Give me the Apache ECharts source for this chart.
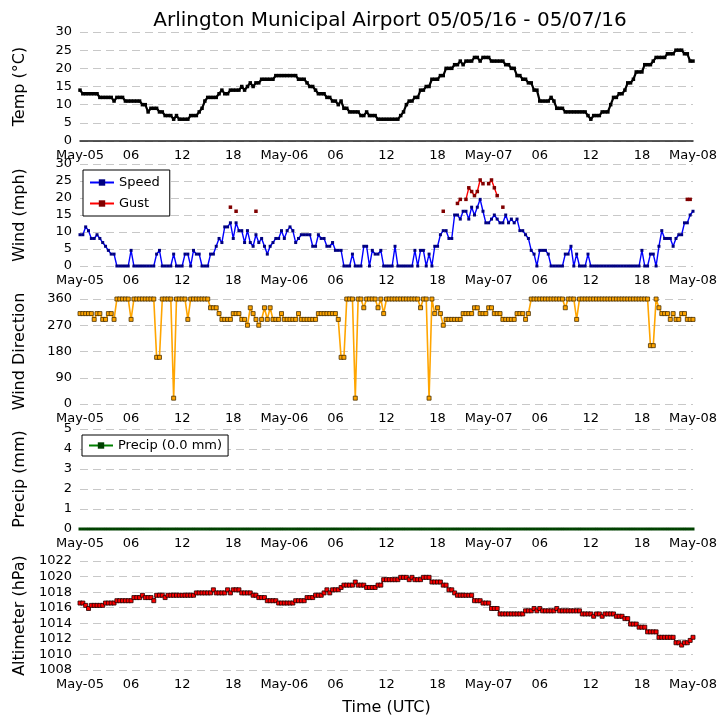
<!DOCTYPE html>
<html><head><meta charset="utf-8">
<script src="https://cdn.jsdelivr.net/npm/echarts@6/dist/echarts.min.js"></script>
<style>html,body{margin:0;padding:0;background:#fff}#c{width:727px;height:725px}</style>
</head><body><div id="c"></div><script>
const _ = null;
// observations every 20 minutes from May-05 00:00 UTC to May-08 00:00 UTC (3 per hour)
const tickLabels = ['May-05','06','12','18','May-06','06','12','18','May-07','06','12','18','May-08'];

const temp = [
14,13,13, 13,13,13, 13,12,12, 12,12,12, 11,12,12, 12,11,11,
11,11,11, 11,10,10, 8,9,9, 9,8,8, 7,7,7, 6,7,6,
6,6,6, 7,7,7, 8,9,11, 12,12,12, 12,13,14, 13,13,14,
14,14,14, 15,14,15, 16,15,16, 16,17,17, 17,17,17, 18,18,18,
18,18,18, 18,18,17, 17,17,16, 15,15,14, 13,13,13, 12,12,11,
11,10,11, 9,9,8, 8,8,8, 7,7,8, 7,7,7, 6,6,6,
6,6,6, 6,6,7, 8,10,11, 11,12,12, 14,14,15, 15,17,17,
17,18,18, 20,20,20, 21,21,22, 21,22,22, 22,23,23, 22,23,23,
23,22,22, 22,22,22, 21,21,20, 20,18,18, 17,17,16, 16,14,14,
11,11,11, 11,12,11, 9,9,9, 8,8,8, 8,8,8, 8,8,7,
6,7,7, 7,8,8, 8,10,12, 12,13,13, 14,16,16, 17,19,19,
19,21,21, 21,22,23, 23,23,23, 24,24,24, 25,25,25, 24,24,22,
22
];

const windSpeed = [
9.2,9.2,11.5, 10.4,8.1,8.1, 9.2,8.1,6.9, 5.8,4.6,3.5, 3.5,0,0, 0,0,0,
4.6,0,0, 0,0,0, 0,0,0, 3.5,4.6,0, 0,0,0, 3.5,0,0,
0,3.5,3.5, 0,4.6,3.5, 3.5,0,0, 0,3.5,3.5, 5.8,8.1,6.9, 11.5,11.5,12.7,
8.1,12.7,10.4, 10.4,6.9,10.4, 6.9,5.8,9.2, 6.9,8.1,5.8, 3.5,5.8,6.9, 8.1,8.1,10.4,
8.1,10.4,11.5, 10.4,6.9,8.1, 9.2,9.2,9.2, 9.2,5.8,5.8, 9.2,8.1,8.1, 5.8,5.8,6.9,
4.6,4.6,4.6, 0,0,0, 3.5,0,0, 0,5.8,5.8, 0,4.6,3.5, 3.5,4.6,0,
0,0,0, 5.8,0,0, 0,0,0, 0,4.6,0, 4.6,4.6,0, 3.5,0,5.8,
5.8,9.2,10.4, 10.4,8.1,8.1, 15.0,15.0,13.8, 16.1,16.1,13.8, 17.3,15.0,17.3, 19.6,16.1,12.7,
12.7,13.8,15.0, 13.8,12.7,12.7, 15.0,12.7,13.8, 12.7,13.8,10.4, 10.4,9.2,8.1, 4.6,3.5,0,
4.6,4.6,4.6, 3.5,0,0, 0,0,0, 3.5,3.5,5.8, 0,3.5,0, 0,0,3.5,
0,0,0, 0,0,0, 0,0,0, 0,0,0, 0,0,0, 0,0,0,
4.6,0,0, 3.5,3.5,0, 5.8,10.4,8.1, 8.1,8.1,5.8, 8.1,9.2,9.2, 12.7,12.7,15.0,
16.1
];

const windGust = [
_,_,_, _,_,_, _,_,_, _,_,_, _,_,_, _,_,_,
_,_,_, _,_,_, _,_,_, _,_,_, _,_,_, _,_,_,
_,_,_, _,_,_, _,_,_, _,_,_, _,_,_, _,_,17.3,
_,16.1,_, _,_,_, _,_,16.1, _,_,_, _,_,_, _,_,_,
_,_,_, _,_,_, _,_,_, _,_,_, _,_,_, _,_,_,
_,_,_, _,_,_, _,_,_, _,_,_, _,_,_, _,_,_,
_,_,_, _,_,_, _,_,_, _,_,_, _,_,_, _,_,_,
_,_,16.1, _,_,_, _,18.4,19.6, _,19.6,23.0, 21.9,20.7,21.9, 25.3,24.2,_,
24.2,25.3,23.0, 20.7,_,17.3, _,_,_, _,_,_, _,_,_, _,_,_,
_,_,_, _,_,_, _,_,_, _,_,_, _,_,_, _,_,_,
_,_,_, _,_,_, _,_,_, _,_,_, _,_,_, _,_,_,
_,_,_, _,_,_, _,_,_, _,_,_, _,_,_, _,19.6,19.6,
_
];

const windDir = [
310,310,310, 310,310,290, 310,310,290, 290,310,310, 290,360,360, 360,360,360,
290,360,360, 360,360,360, 360,360,360, 160,160,360, 360,360,360, 20,360,360,
360,360,290, 360,360,360, 360,360,360, 360,330,330, 330,310,290, 290,290,290,
310,310,310, 290,290,270, 330,310,290, 270,290,330, 290,330,290, 290,290,310,
290,290,290, 290,290,310, 290,290,290, 290,290,290, 310,310,310, 310,310,310,
310,290,160, 160,360,360, 360,20,360, 360,330,360, 360,360,360, 330,360,310,
360,360,360, 360,360,360, 360,360,360, 360,360,360, 330,360,360, 20,360,310,
330,310,270, 290,290,290, 290,290,290, 310,310,310, 310,330,330, 310,310,310,
330,330,310, 310,310,290, 290,290,290, 290,310,310, 310,290,310, 360,360,360,
360,360,360, 360,360,360, 360,360,360, 330,360,360, 360,290,360, 360,360,360,
360,360,360, 360,360,360, 360,360,360, 360,360,360, 360,360,360, 360,360,360,
360,360,360, 200,200,360, 330,310,310, 310,290,310, 290,290,310, 310,290,290,
290
];

const precip = [
0,0,0,0,0,0,0,0,0,0,0,0,0,0,0,0,0,0,0,0,0,0,0,0,0,0,0,0,0,0,0,0,0,0,0,0,
0,0,0,0,0,0,0,0,0,0,0,0,0,0,0,0,0,0,0,0,0,0,0,0,0,0,0,0,0,0,0,0,0,0,0,0,
0,0,0,0,0,0,0,0,0,0,0,0,0,0,0,0,0,0,0,0,0,0,0,0,0,0,0,0,0,0,0,0,0,0,0,0,
0,0,0,0,0,0,0,0,0,0,0,0,0,0,0,0,0,0,0,0,0,0,0,0,0,0,0,0,0,0,0,0,0,0,0,0,
0,0,0,0,0,0,0,0,0,0,0,0,0,0,0,0,0,0,0,0,0,0,0,0,0,0,0,0,0,0,0,0,0,0,0,0,
0,0,0,0,0,0,0,0,0,0,0,0,0,0,0,0,0,0,0,0,0,0,0,0,0,0,0,0,0,0,0,0,0,0,0,0,
0
];

const altimeter = [
1016.6,1016.6,1016.3, 1015.9,1016.3,1016.3, 1016.3,1016.3,1016.3, 1016.6,1016.6,1016.6, 1016.6,1016.9,1016.9, 1016.9,1016.9,1016.9,
1016.9,1017.3,1017.3, 1017.3,1017.6,1017.3, 1017.3,1017.3,1016.9, 1017.6,1017.6,1017.6, 1017.3,1017.6,1017.6, 1017.6,1017.6,1017.6,
1017.6,1017.6,1017.6, 1017.6,1017.6,1017.9, 1017.9,1017.9,1017.9, 1017.9,1017.9,1018.3, 1017.9,1017.9,1017.9, 1017.9,1018.3,1017.9,
1018.3,1018.3,1018.3, 1017.9,1017.9,1017.9, 1017.9,1017.6,1017.6, 1017.3,1017.3,1017.3, 1016.9,1016.9,1016.9, 1016.9,1016.6,1016.6,
1016.6,1016.6,1016.6, 1016.6,1016.9,1016.9, 1016.9,1016.9,1017.3, 1017.3,1017.3,1017.6, 1017.6,1017.6,1017.9, 1018.3,1017.9,1018.3,
1018.3,1018.3,1018.6, 1018.9,1018.9,1018.9, 1018.9,1019.3,1018.9, 1018.9,1018.9,1018.6, 1018.6,1018.6,1018.6, 1018.9,1018.9,1019.6,
1019.6,1019.6,1019.6, 1019.6,1019.6,1019.9, 1019.9,1019.9,1019.6, 1019.9,1019.6,1019.6, 1019.6,1019.9,1019.9, 1019.9,1019.3,1019.3,
1019.3,1019.3,1018.9, 1018.9,1018.3,1018.3, 1017.9,1017.6,1017.6, 1017.6,1017.6,1017.6, 1017.6,1016.9,1016.9, 1016.9,1016.6,1016.6,
1016.6,1015.9,1015.9, 1015.9,1015.2,1015.2, 1015.2,1015.2,1015.2, 1015.2,1015.2,1015.2, 1015.2,1015.6,1015.6, 1015.6,1015.9,1015.6,
1015.9,1015.6,1015.6, 1015.6,1015.6,1015.6, 1015.9,1015.6,1015.6, 1015.6,1015.6,1015.6, 1015.6,1015.6,1015.6, 1015.2,1015.2,1015.2,
1015.2,1014.9,1015.2, 1015.2,1014.9,1015.2, 1015.2,1015.2,1015.2, 1014.9,1014.9,1014.9, 1014.6,1014.6,1013.9, 1013.9,1013.9,1013.5,
1013.5,1013.5,1012.9, 1012.9,1012.9,1012.9, 1012.2,1012.2,1012.2, 1012.2,1012.2,1012.2, 1011.5,1011.5,1011.2, 1011.5,1011.5,1011.8,
1012.2
];

const STEP_H = 1/3; // hours between observations
const pts = arr => arr.map((v, i) => [i * STEP_H, v]);

const FONT = 'DejaVu Sans';
const gridBoxes = [
  {top: 32, height: 109},
  {top: 164, height: 102},
  {top: 299, height: 105},
  {top: 429, height: 100},
  {top: 561, height: 109}
];
const yDefs = [
  {name: 'Temp (°C)', min: 0, max: 30, interval: 5},
  {name: 'Wind (mph)', min: 0, max: 30, interval: 5},
  {name: 'Wind Direction', min: 0, max: 360, interval: 90},
  {name: 'Precip (mm)', min: 0, max: 5, interval: 1},
  {name: 'Altimeter (hPa)', min: 1008, max: 1022, interval: 2}
];

const grid = gridBoxes.map(g => ({left: 80, width: 613, top: g.top, height: g.height}));
const xAxis = gridBoxes.map((g, i) => ({
  type: 'value', gridIndex: i, min: 0, max: 72, interval: 6,
  axisLine: {show: i === 0, onZero: false, lineStyle: {color: '#222', width: 1.5}},
  axisTick: {show: false},
  splitLine: {show: false},
  axisLabel: {fontFamily: FONT, fontSize: 13, color: '#000', margin: 8,
    formatter: v => tickLabels[Math.round(v / 6)]},
  name: i === 4 ? 'Time (UTC)' : '',
  nameLocation: 'middle', nameGap: 30,
  nameTextStyle: {fontFamily: FONT, fontSize: 16, color: '#000'}
}));
const yAxis = yDefs.map((d, i) => ({
  type: 'value', gridIndex: i, min: d.min, max: d.max, interval: d.interval,
  axisLine: {show: false}, axisTick: {show: false},
  splitLine: {show: true, lineStyle: {color: '#c8c8c8', type: [8, 5], width: 1}},
  axisLabel: {fontFamily: FONT, fontSize: 13, color: '#000', margin: 8,
    formatter: v => String(v)},
  name: d.name, nameLocation: 'middle', nameGap: 52, nameRotate: 90,
  nameTextStyle: {fontFamily: FONT, fontSize: 16, color: '#000'}
}));

function lineSeries(name, data, idx, lineColor, lw, sym, symSize, fill, border) {
  return {
    name, type: 'line', xAxisIndex: idx, yAxisIndex: idx, data: pts(data),
    showSymbol: true, showAllSymbol: true, symbol: sym, symbolSize: symSize,
    connectNulls: false, clip: false, animation: false,
    lineStyle: {color: lineColor, width: lw},
    itemStyle: {color: fill, borderColor: border, borderWidth: border ? 0.8 : 0}
  };
}

const series = [
  lineSeries('Temp', temp, 0, '#000000', 2.2, 'rect', 3.5, '#000000', null),
  lineSeries('Speed', windSpeed, 1, '#0000ff', 1.4, 'rect', 3, '#000080', null),
  lineSeries('Gust', windGust, 1, '#ff0000', 1.4, 'rect', 3.5, '#800000', null),
  lineSeries('Direction', windDir, 2, '#ffa500', 1.6, 'rect', 4, '#ffa500', '#4a3000'),
  lineSeries('Precip (0.0 mm)', precip, 3, '#008000', 2, 'rect', 3, '#004000', null),
  lineSeries('Altimeter', altimeter, 4, '#8b0000', 1.4, 'rect', 4, '#ff0000', '#200000')
];

const legendBase = {
  orient: 'vertical', backgroundColor: '#ffffff', borderColor: '#000', borderWidth: 1,
  borderRadius: 0, itemWidth: 24, itemHeight: 8, itemGap: 8,
  textStyle: {fontFamily: FONT, fontSize: 13, color: '#000'}
};

const option = {
  backgroundColor: '#ffffff',
  animation: false,
  title: {
    text: 'Arlington Municipal Airport 05/05/16 - 05/07/16',
    left: 385, top: 6, textAlign: 'center',
    textStyle: {fontFamily: FONT, fontSize: 20, fontWeight: 'normal', color: '#000'}
  },
  legend: [
    Object.assign({}, legendBase, {data: ['Speed', 'Gust'], left: 83, top: 170, padding: [6, 10, 6, 6]}),
    Object.assign({}, legendBase, {data: ['Precip (0.0 mm)'], left: 82, top: 435, padding: [4, 6, 4, 6]})
  ],
  grid, xAxis, yAxis, series
};

const chart = echarts.init(document.getElementById('c'), null, {renderer: 'canvas'});
chart.setOption(option);
</script></body></html>
